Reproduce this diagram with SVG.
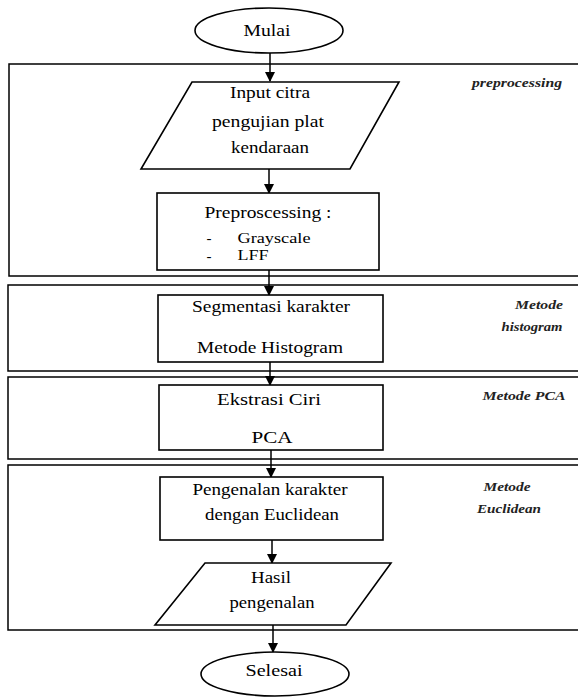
<svg xmlns="http://www.w3.org/2000/svg" width="578" height="697" viewBox="0 0 578 697">
<style>
.s{fill:none;stroke:#000;stroke-width:1.5}
.n{fill:#fff;stroke:#000;stroke-width:1.6}
.t{font-family:"Liberation Serif","Times New Roman",serif;font-size:17px;fill:#000;text-anchor:middle}
.sm{font-size:15px}
.l{font-family:"Liberation Serif","Times New Roman",serif;font-size:12px;font-style:italic;font-weight:bold;fill:#222;text-anchor:middle}
.c{stroke:#000;stroke-width:1.5;fill:none;marker-end:url(#ah)}
</style>
<defs>
<marker id="ah" markerWidth="10" markerHeight="10" refX="9" refY="5" orient="auto" markerUnits="userSpaceOnUse">
<path d="M0,0 L10,5 L0,10 Z" fill="#000"/>
</marker>
</defs>
<rect width="578" height="697" fill="#fff"/>
<g id="sections">
<rect class="s" x="9" y="64" width="600" height="212"/>
<rect class="s" x="8" y="285" width="600" height="86"/>
<rect class="s" x="8" y="377" width="600" height="82"/>
<rect class="s" x="8" y="465" width="600" height="165"/>
</g>
<g id="labels">
<text class="l" x="517" y="87" textLength="90" lengthAdjust="spacingAndGlyphs">preprocessing</text>
<text class="l" x="539" y="309" textLength="48" lengthAdjust="spacingAndGlyphs">Metode</text>
<text class="l" x="532" y="331" textLength="61" lengthAdjust="spacingAndGlyphs">histogram</text>
<text class="l" x="524" y="400" textLength="83" lengthAdjust="spacingAndGlyphs">Metode PCA</text>
<text class="l" x="507" y="491" textLength="47" lengthAdjust="spacingAndGlyphs">Metode</text>
<text class="l" x="509" y="513" textLength="64" lengthAdjust="spacingAndGlyphs">Euclidean</text>
</g>
<g id="connectors">
<line class="c" x1="270" y1="53" x2="270" y2="81"/>
<line class="c" x1="269" y1="169" x2="269" y2="193"/>
<line class="c" x1="269" y1="270" x2="269" y2="295"/>
<line class="c" x1="270" y1="362" x2="270" y2="385"/>
<line class="c" x1="271" y1="450" x2="271" y2="477"/>
<line class="c" x1="272" y1="540" x2="272" y2="563"/>
<line class="c" x1="273" y1="625" x2="273" y2="652"/>
</g>
<g id="mulai">
<ellipse class="n" cx="269" cy="30.5" rx="74" ry="22.5"/>
<text class="t" x="267" y="36" textLength="47" lengthAdjust="spacingAndGlyphs">Mulai</text>
</g>
<g id="input">
<polygon class="n" points="192,82 399,82 350,169 141,169"/>
<text class="t" x="270" y="98" textLength="80" lengthAdjust="spacingAndGlyphs">Input citra</text>
<text class="t" x="268" y="127" textLength="112" lengthAdjust="spacingAndGlyphs">pengujian plat</text>
<text class="t" x="270" y="153" textLength="78" lengthAdjust="spacingAndGlyphs">kendaraan</text>
</g>
<g id="preprocessing">
<rect class="n" x="157" y="193" width="222" height="77"/>
<text class="t" x="268" y="218" textLength="127" lengthAdjust="spacingAndGlyphs">Preproscessing :</text>
<text class="t sm" x="209" y="243">-</text>
<text class="t sm" x="274" y="243" textLength="73" lengthAdjust="spacingAndGlyphs">Grayscale</text>
<text class="t sm" x="209" y="261">-</text>
<text class="t sm" x="253" y="260" textLength="31" lengthAdjust="spacingAndGlyphs">LFF</text>
</g>
<g id="segmentasi">
<rect class="n" x="158" y="295" width="225" height="67"/>
<text class="t" x="271" y="312" textLength="158" lengthAdjust="spacingAndGlyphs">Segmentasi karakter</text>
<text class="t" x="270" y="353" textLength="146" lengthAdjust="spacingAndGlyphs">Metode Histogram</text>
</g>
<g id="ekstrasi">
<rect class="n" x="159" y="385" width="224" height="65"/>
<text class="t" x="269" y="405" textLength="104" lengthAdjust="spacingAndGlyphs">Ekstrasi Ciri</text>
<text class="t" x="272" y="443" textLength="41" lengthAdjust="spacingAndGlyphs">PCA</text>
</g>
<g id="pengenalan">
<rect class="n" x="160" y="477" width="223" height="63"/>
<text class="t" x="270" y="495" textLength="155" lengthAdjust="spacingAndGlyphs">Pengenalan karakter</text>
<text class="t" x="272" y="520" textLength="134" lengthAdjust="spacingAndGlyphs">dengan Euclidean</text>
</g>
<g id="hasil">
<polygon class="n" points="205,563 391,563 346,625 155,625"/>
<text class="t" x="271" y="583" textLength="40" lengthAdjust="spacingAndGlyphs">Hasil</text>
<text class="t" x="272" y="608" textLength="85" lengthAdjust="spacingAndGlyphs">pengenalan</text>
</g>
<g id="selesai">
<ellipse class="n" cx="275" cy="674" rx="74" ry="22"/>
<text class="t" x="274" y="676" textLength="57" lengthAdjust="spacingAndGlyphs">Selesai</text>
</g>
</svg>
